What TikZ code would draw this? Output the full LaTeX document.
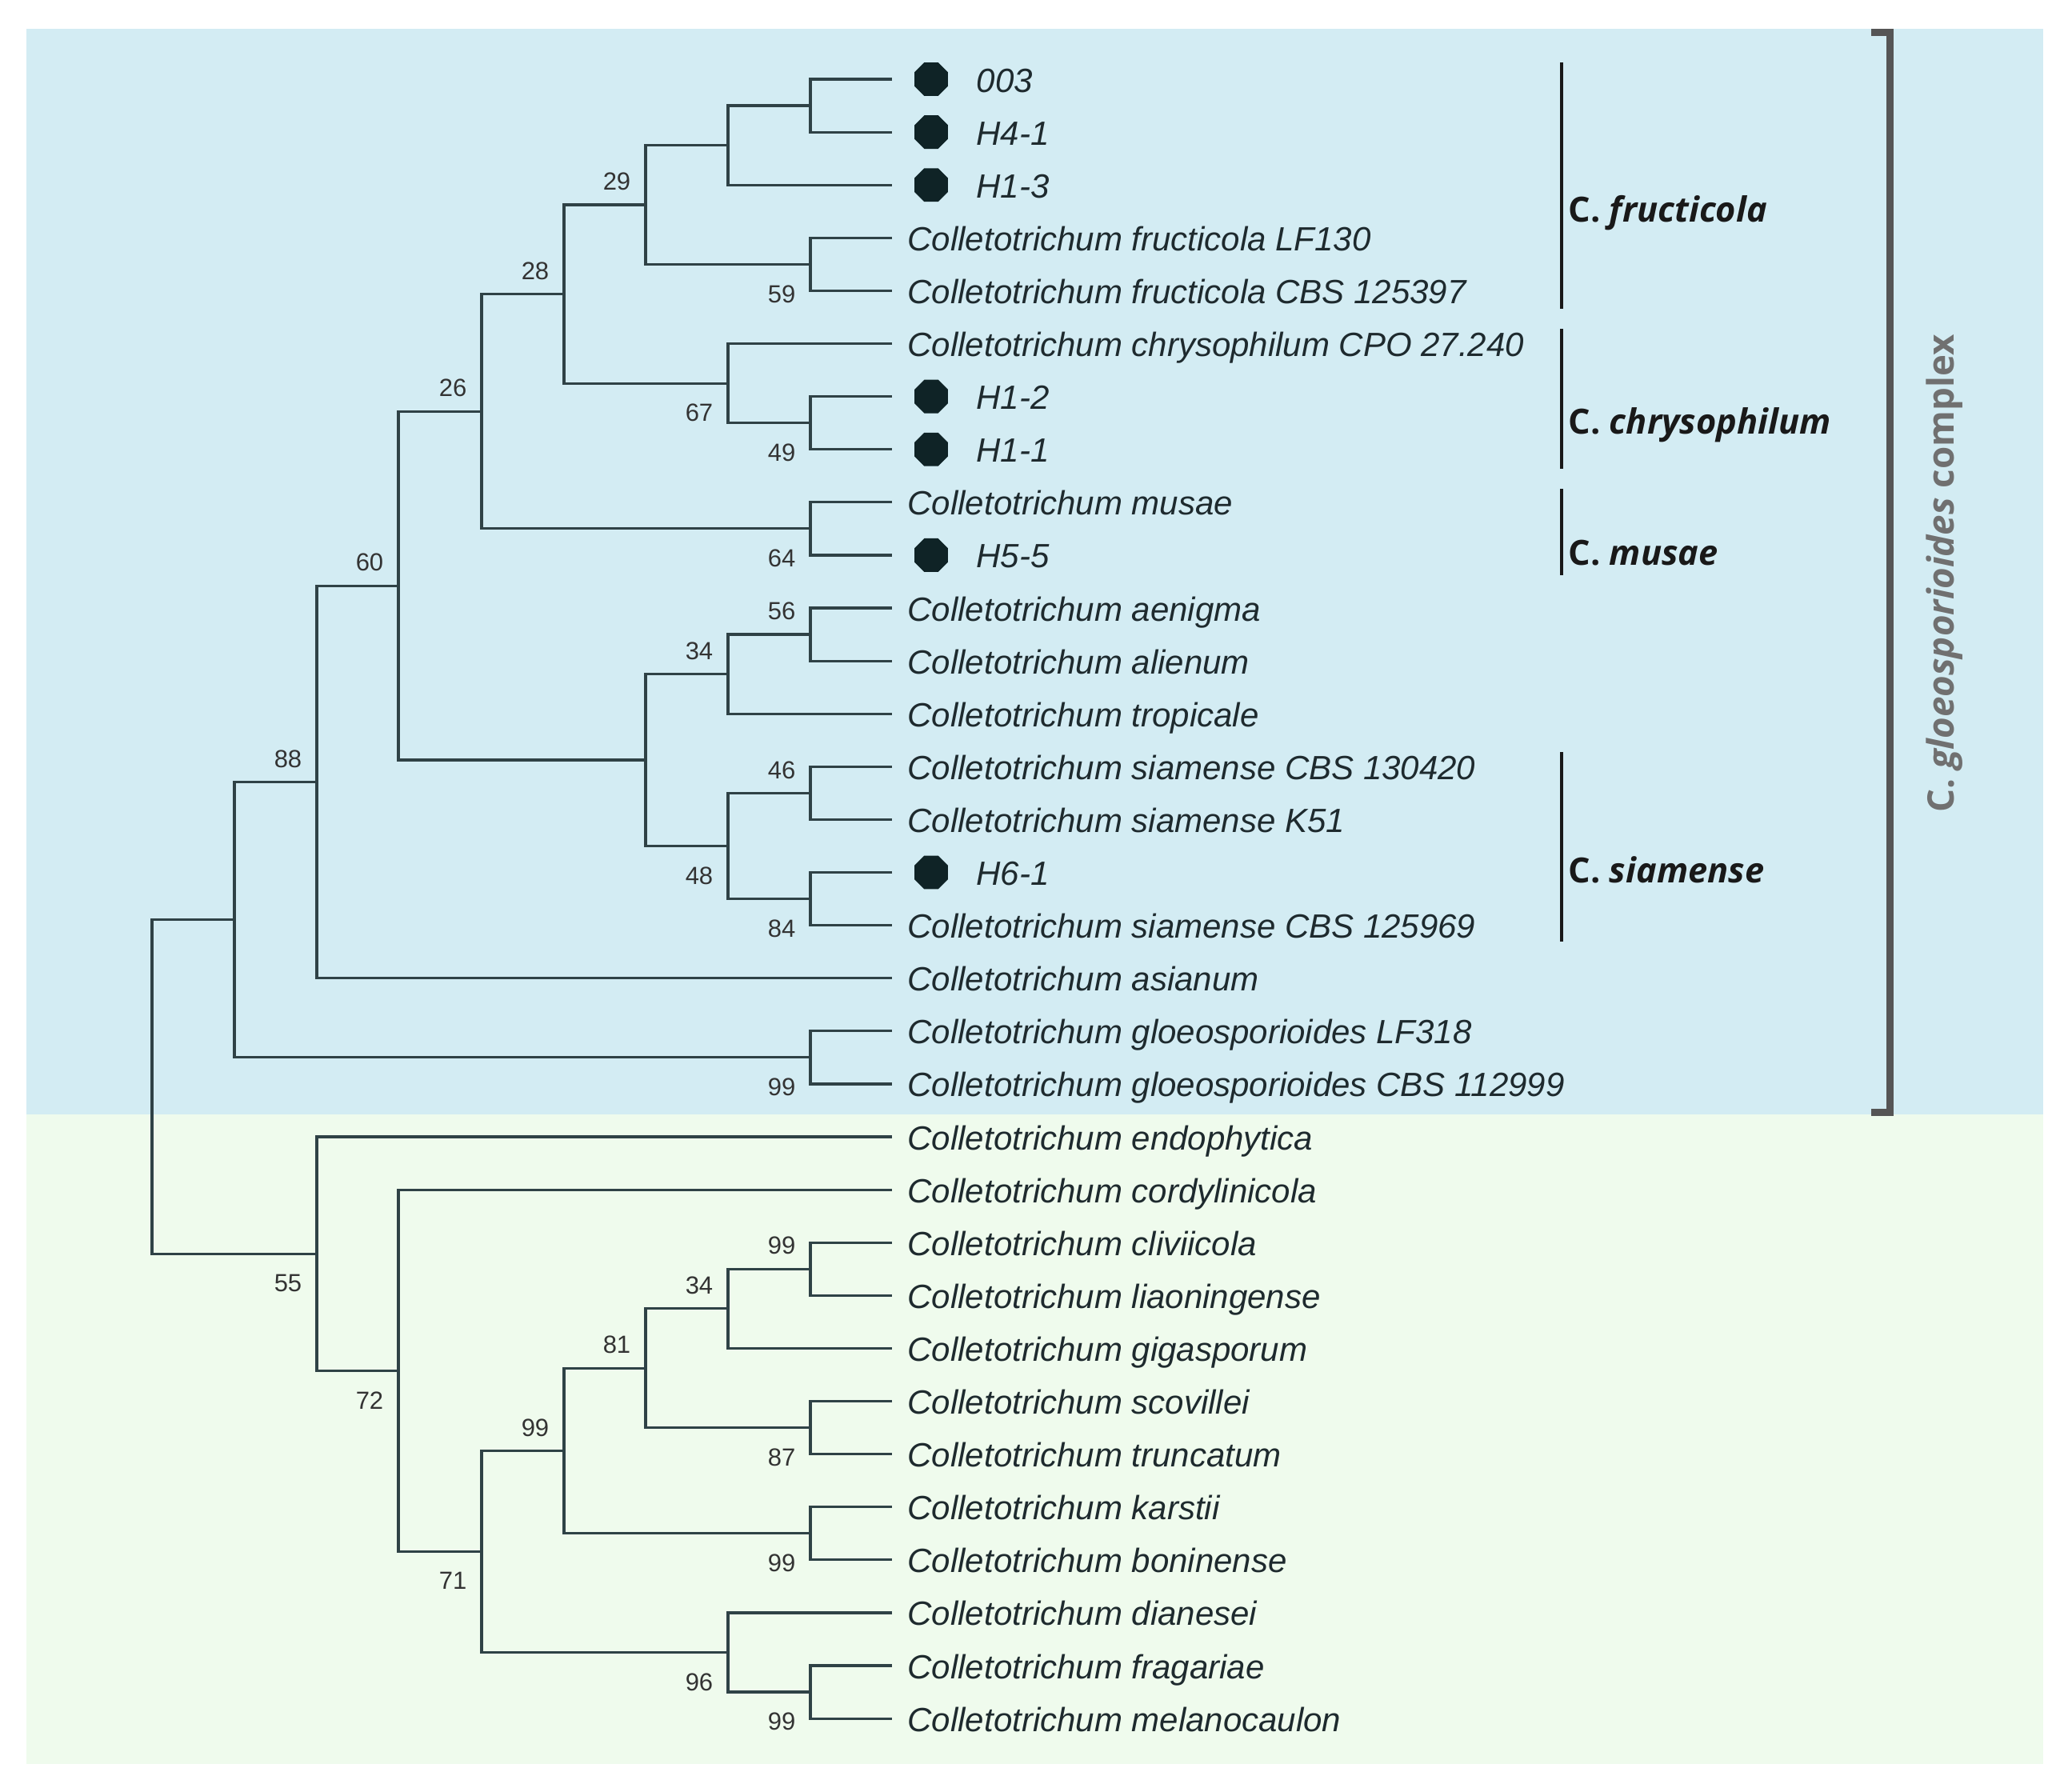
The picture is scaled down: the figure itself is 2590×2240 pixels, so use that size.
\documentclass[tikz,border=0pt]{standalone}
\usepackage{fontspec}
\setmainfont{Liberation Sans}
\newfontfamily\cladefont{Open Sans}
\usetikzlibrary{shapes.geometric}
\definecolor{bgblue}{HTML}{D3ECF3}
\definecolor{bggreen}{HTML}{EFFBED}
\definecolor{branch}{HTML}{2F4246}
\definecolor{dotc}{HTML}{0F2326}
\definecolor{txt}{HTML}{1E2A2E}
\definecolor{brk}{HTML}{555555}
\definecolor{cplx}{HTML}{707070}
\tikzset{
  br/.style={draw=branch, line width=0.95pt},
  leaf/.style={inner sep=0pt, text=txt, font=\fontsize{12.6}{15}\selectfont\itshape},
  num/.style={inner sep=0pt, text=black!80, font=\fontsize{9.3}{11}\selectfont},
  dotmark/.style={regular polygon, regular polygon sides=8, fill=dotc, draw=none, minimum size=13.6pt, inner sep=0pt},
  cladebar/.style={draw=black!90, line width=1pt},
  cladelab/.style={inner sep=0pt, text=black!90, font=\cladefont\fontsize{13}{15}\selectfont\bfseries},
}
\newcommand\kids[3]{\draw[br] (#2) -| (#1) |- (#3);}
\newcommand\bs[3]{\path (#1) ++(-36,#2) node[num] (n#1) {#3};}
\begin{document}
\begin{tikzpicture}[x=0.3pt, y=-0.3pt]
\useasboundingbox (0,0) rectangle (2590,2240);
\fill[white] (0,0) rectangle (2590,2240);
\fill[bgblue] (33,36) rectangle (2554,1393);
\fill[bggreen] (33,1393) rectangle (2554,2205);

% leaves
\foreach \i in {0,...,31} {\coordinate (t\i) at (1115,{99+66.1*\i});}
\foreach \i/\t in {3/{Colletotrichum fructicola LF130},4/{Colletotrichum fructicola CBS 125397},
  5/{Colletotrichum chrysophilum CPO 27.240},8/{Colletotrichum musae},10/{Colletotrichum aenigma},
  11/{Colletotrichum alienum},12/{Colletotrichum tropicale},13/{Colletotrichum siamense CBS 130420},
  14/{Colletotrichum siamense K51},16/{Colletotrichum siamense CBS 125969},17/{Colletotrichum asianum},
  18/{Colletotrichum gloeosporioides LF318},19/{Colletotrichum gloeosporioides CBS 112999},
  20/{Colletotrichum endophytica},21/{Colletotrichum cordylinicola},22/{Colletotrichum cliviicola},
  23/{Colletotrichum liaoningense},24/{Colletotrichum gigasporum},25/{Colletotrichum scovillei},
  26/{Colletotrichum truncatum},27/{Colletotrichum karstii},28/{Colletotrichum boninense},
  29/{Colletotrichum dianesei},30/{Colletotrichum fragariae},31/{Colletotrichum melanocaulon}}
  {\node[leaf, anchor=base west] (L\i) at (1134,{99+66.1*\i+16}) {\t};}
\foreach \i/\t in {0/003,1/H4-1,2/H1-3,6/H1-2,7/H1-1,9/H5-5,15/H6-1}
  {\node[dotmark] (D\i) at (1164,{99+66.1*\i}) {};
   \node[leaf, anchor=base west] (L\i) at (1220,{99+66.1*\i+16}) {\t};}

% internal nodes
\coordinate (a1) at (1013,{99+66.1*0.5});
\coordinate (a2) at (910,{99+66.1*1.25});
\coordinate (a3) at (1013,{99+66.1*3.5});
\coordinate (a4) at (807,{99+66.1*2.375});
\coordinate (a5) at (1013,{99+66.1*6.5});
\coordinate (a6) at (910,{99+66.1*5.75});
\coordinate (a7) at (705,{99+66.1*4.0625});
\coordinate (a8) at (1013,{99+66.1*8.5});
\coordinate (a9) at (602,{99+66.1*6.28125});
\coordinate (b1) at (1013,{99+66.1*10.5});
\coordinate (b2) at (910,{99+66.1*11.25});
\coordinate (b3) at (1013,{99+66.1*13.5});
\coordinate (b4) at (1013,{99+66.1*15.5});
\coordinate (b5) at (910,{99+66.1*14.5});
\coordinate (b6) at (807,{99+66.1*12.875});
\coordinate (c1) at (498,{99+66.1*9.578});
\coordinate (c2) at (396,{99+66.1*13.289});
\coordinate (c3) at (1013,{99+66.1*18.5});
\coordinate (c4) at (293,{99+66.1*15.895});
\coordinate (d1) at (1013,{99+66.1*22.5});
\coordinate (d2) at (910,{99+66.1*23.25});
\coordinate (d3) at (1013,{99+66.1*25.5});
\coordinate (d4) at (807,{99+66.1*24.375});
\coordinate (d5) at (1013,{99+66.1*27.5});
\coordinate (d6) at (705,{99+66.1*25.9375});
\coordinate (d7) at (1013,{99+66.1*30.5});
\coordinate (d8) at (910,{99+66.1*29.75});
\coordinate (d9) at (602,{99+66.1*27.84});
\coordinate (e1) at (498,{99+66.1*24.42});
\coordinate (e2) at (396,{99+66.1*22.21});
\coordinate (root) at (190,{99+66.1*19.05});

% branches
\kids{a1}{t0}{t1}
\kids{a2}{a1}{t2}
\kids{a3}{t3}{t4}
\kids{a4}{a2}{a3}
\kids{a5}{t6}{t7}
\kids{a6}{t5}{a5}
\kids{a7}{a4}{a6}
\kids{a8}{t8}{t9}
\kids{a9}{a7}{a8}
\kids{b1}{t10}{t11}
\kids{b2}{b1}{t12}
\kids{b3}{t13}{t14}
\kids{b4}{t15}{t16}
\kids{b5}{b3}{b4}
\kids{b6}{b2}{b5}
\kids{c1}{a9}{b6}
\kids{c2}{c1}{t17}
\kids{c3}{t18}{t19}
\kids{c4}{c2}{c3}
\kids{d1}{t22}{t23}
\kids{d2}{d1}{t24}
\kids{d3}{t25}{t26}
\kids{d4}{d2}{d3}
\kids{d5}{t27}{t28}
\kids{d6}{d4}{d5}
\kids{d7}{t30}{t31}
\kids{d8}{t29}{d7}
\kids{d9}{d6}{d8}
\kids{e1}{t21}{d9}
\kids{e2}{t20}{e1}
\kids{root}{c4}{e2}

% bootstrap values
\bs{a3}{37}{59}
\bs{a4}{-29}{29}
\bs{a5}{37}{49}
\bs{a6}{37}{67}
\bs{a7}{-29}{28}
\bs{a8}{37}{64}
\bs{a9}{-29}{26}
\bs{b1}{-29}{56}
\bs{b2}{-29}{34}
\bs{b3}{-29}{46}
\bs{b4}{37}{84}
\bs{b5}{37}{48}
\bs{c1}{-29}{60}
\bs{c2}{-29}{88}
\bs{c3}{37}{99}
\bs{d1}{-29}{99}
\bs{d2}{-29}{34}
\bs{d3}{37}{87}
\bs{d4}{-29}{81}
\bs{d5}{37}{99}
\bs{d6}{-29}{99}
\bs{d7}{37}{99}
\bs{d8}{37}{96}
\bs{d9}{37}{71}
\bs{e1}{37}{72}
\bs{e2}{37}{55}

% clade bars and labels
\coordinate (fa) at (1952,78);  \coordinate (fb) at (1952,386);
\coordinate (ca) at (1952,411); \coordinate (cb) at (1952,586);
\coordinate (ma) at (1952,611); \coordinate (mb) at (1952,719);
\coordinate (sa) at (1952,940); \coordinate (sb) at (1952,1177);
\draw[cladebar] (fa) -- (fb);
\draw[cladebar] (ca) -- (cb);
\draw[cladebar] (ma) -- (mb);
\draw[cladebar] (sa) -- (sb);
\node[cladelab, anchor=base west] (cf) at (1960,277) {C. \itshape fructicola};
\node[cladelab, anchor=base west] (cc) at (1960,542) {C. \itshape chrysophilum};
\node[cladelab, anchor=base west] (cm) at (1960,706) {C. \itshape musae};
\node[cladelab, anchor=base west] (cs) at (1960,1103) {C. \itshape siamense};

% complex bracket
\coordinate (k1) at (2339,40); \coordinate (k2) at (2362,40);
\coordinate (k3) at (2362,1390); \coordinate (k4) at (2339,1390);
\draw[draw=brk, line width=2.7pt, miter limit=10] (k1) -- (k2) -- (k3) -- (k4);
\node[cladelab, text=cplx, anchor=base, rotate=90, font=\cladefont\fontsize{13.7}{16}\selectfont\bfseries] (cx) at (2442,717) {C. {\itshape gloeosporioides} complex};
\end{tikzpicture}
\end{document}
